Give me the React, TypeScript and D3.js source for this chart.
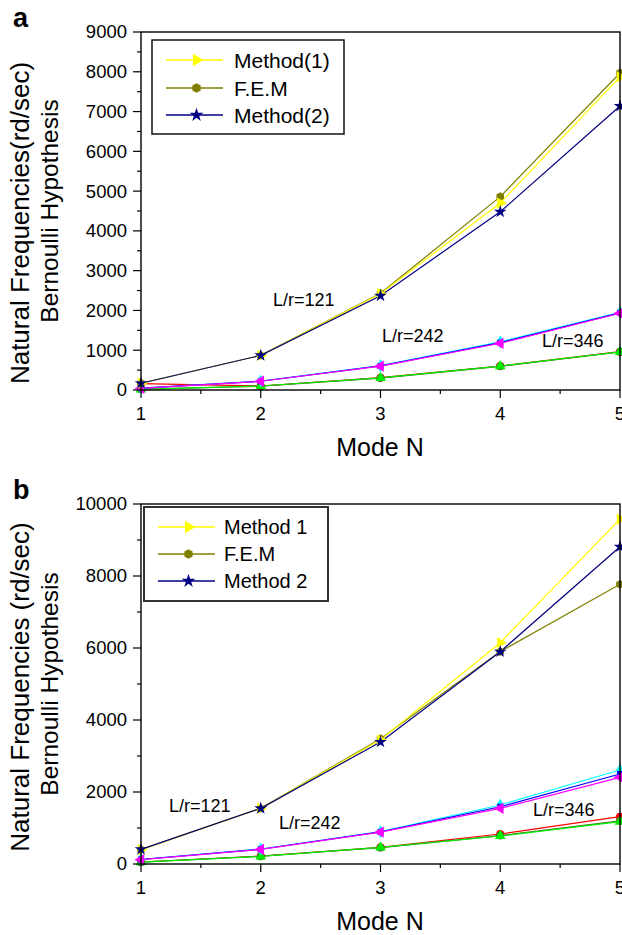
import React from "react";
import * as d3 from "d3";

const modes = [1, 2, 3, 4, 5];

// Panel a values
const aM1_121 = [170, 870, 2420, 4700, 7870];
const aFEM_121 = [170, 870, 2430, 4860, 7970];
const aM2_121 = [170, 870, 2370, 4480, 7140];
const aM1_242 = [50, 226, 611, 1210, 1950];
const aFEM_242 = [45, 220, 605, 1190, 1940];
const aM2_242 = [40, 220, 600, 1175, 1930];
const aM1_346 = [160, 100, 310, 603, 963];
const aFEM_346 = [20, 95, 300, 595, 955];
const aM2_346 = [15, 100, 305, 600, 960];

// Panel b values
const bM1_121 = [400, 1546, 3450, 6147, 9580];
const bFEM_121 = [400, 1546, 3480, 5900, 7769];
const bM2_121 = [408, 1546, 3390, 5897, 8814];
const bM1_242 = [130, 417, 898, 1639, 2611];
const bFEM_242 = [125, 410, 890, 1590, 2500];
const bM2_242 = [120, 405, 885, 1546, 2408];
const bM1_346 = [55, 222, 463, 833, 1315];
const bFEM_346 = [50, 215, 455, 790, 1200];
const bM2_346 = [50, 210, 460, 778, 1176];

const legendA = ["Method(1)", "F.E.M", "Method(2)"];
const legendB = ["Method 1", "F.E.M", "Method 2"];
const ticksA = [0, 1000, 2000, 3000, 4000, 5000, 6000, 7000, 8000, 9000];
const ticksB = [0, 2000, 4000, 6000, 8000, 10000];
const ratioLabels = ["L/r=121", "L/r=242", "L/r=346"];

const FONT = "'Liberation Sans', Arial, Helvetica, sans-serif";

type Style = { color: string; marker: string };
const styles121: Style[] = [
  { color: "#ffff00", marker: "triRight" },
  { color: "#808000", marker: "hex" },
  { color: "#000080", marker: "star" },
];
const styles242: Style[] = [
  { color: "#00ffff", marker: "diamond" },
  { color: "#0000ff", marker: "square" },
  { color: "#ff00ff", marker: "triLeft" },
];
const styles346: Style[] = [
  { color: "#ff0000", marker: "circle" },
  { color: "#556b2f", marker: "circle" },
  { color: "#00ee00", marker: "triUp" },
];

function markerPath(kind: string, size: number): { d: string; rot: number } {
  switch (kind) {
    case "triRight":
      return { d: d3.symbol(d3.symbolTriangle, size * 1.1)()!, rot: 90 };
    case "triLeft":
      return { d: d3.symbol(d3.symbolTriangle, size * 1.1)()!, rot: -90 };
    case "triUp":
      return { d: d3.symbol(d3.symbolTriangle, size)()!, rot: 0 };
    case "star":
      return { d: d3.symbol(d3.symbolStar, size)()!, rot: 0 };
    case "diamond":
      return { d: d3.symbol(d3.symbolDiamond, size)()!, rot: 0 };
    case "square":
      return { d: d3.symbol(d3.symbolSquare, size * 0.7)()!, rot: 0 };
    case "hex": {
      const r = Math.sqrt(size / 2.6);
      const pts = d3.range(6).map((i) => {
        const a = (Math.PI / 3) * i + Math.PI / 6;
        return [r * Math.cos(a), r * Math.sin(a)];
      });
      return { d: "M" + pts.map((p) => p.join(",")).join("L") + "Z", rot: 0 };
    }
    default:
      return { d: d3.symbol(d3.symbolCircle, size)()!, rot: 0 };
  }
}

function Marker({ kind, color, x, y, size }: { kind: string; color: string; x: number; y: number; size: number }) {
  const m = markerPath(kind, size);
  return <path d={m.d} fill={color} transform={`translate(${x},${y}) rotate(${m.rot})`} />;
}

type PanelProps = {
  top: number;
  bottom: number;
  yMax: number;
  yTicks: number[];
  yMinorStep: number;
  series: { values: number[]; style: Style }[];
  letter: string;
  yLabel1: string;
  labelShift: number;
  legend: string[];
  legendBox: { x: number; y: number; w: number; h: number; stroke: string; sw: number; fs: number; rowY: number[]; lx1: number; lx2: number; tx: number };
  labels: { text: string; x: number; y: number }[];
  markerSize: number;
};

function Panel(p: PanelProps) {
  const left = 141;
  const right = 620;
  const x = d3.scaleLinear().domain([1, 5]).range([left, right]);
  const y = d3.scaleLinear().domain([0, p.yMax]).range([p.bottom, p.top]);
  const line = d3
    .line<number>()
    .x((_, i) => x(modes[i]))
    .y((v) => y(v));
  const minorY = d3.range(0, p.yMax + 1, p.yMinorStep);
  const minorX = d3.range(1, 5.01, 0.5);
  const midY = (p.top + p.bottom) / 2;
  const lb = p.legendBox;
  return (
    <g>
      <text x={13} y={p.top - 5} fontFamily={FONT} fontWeight="bold" fontSize={27}>
        {p.letter}
      </text>
      {p.series.map((s, i) => (
        <path key={"l" + i} d={line(s.values)!} fill="none" stroke={s.style.color} strokeWidth={1.2} />
      ))}
      {p.series.map((s, i) =>
        s.values.map((v, j) => (
          <Marker key={`m${i}-${j}`} kind={s.style.marker} color={s.style.color} x={x(modes[j])} y={y(v)} size={p.markerSize} />
        ))
      )}
      <rect x={left} y={p.top} width={right - left} height={p.bottom - p.top} fill="none" stroke="#000" strokeWidth={1.4} />
      {minorY.map((t) => (
        <line key={"ym" + t} x1={left} x2={left - (p.yTicks.includes(t) ? 8 : 4)} y1={y(t)} y2={y(t)} stroke="#000" strokeWidth={1.2} />
      ))}
      {p.yTicks.map((t) => (
        <text key={"yt" + t} x={left - 14} y={y(t)} dy="0.35em" textAnchor="end" fontFamily={FONT} fontSize={18.5}>
          {t}
        </text>
      ))}
      {minorX.map((t) => (
        <line key={"xm" + t} x1={x(t)} x2={x(t)} y1={p.bottom} y2={p.bottom + (Number.isInteger(t) ? 8 : 4)} stroke="#000" strokeWidth={1.2} />
      ))}
      {modes.map((t) => (
        <text key={"xt" + t} x={x(t)} y={p.bottom + 30} textAnchor="middle" fontFamily={FONT} fontSize={18.5}>
          {t}
        </text>
      ))}
      <text x={380} y={p.bottom + 66} textAnchor="middle" fontFamily={FONT} fontSize={25}>
        Mode N
      </text>
      <text transform={`translate(29,${midY + p.labelShift}) rotate(-90)`} textAnchor="middle" fontFamily={FONT} fontSize={26}>
        {p.yLabel1}
      </text>
      <text transform={`translate(58,${midY}) rotate(-90)`} textAnchor="middle" fontFamily={FONT} fontSize={24.5}>
        Bernoulli Hypothesis
      </text>
      {p.labels.map((l) => (
        <text key={l.text} x={l.x} y={l.y} fontFamily={FONT} fontSize={18}>
          {l.text}
        </text>
      ))}
      <rect x={lb.x} y={lb.y} width={lb.w} height={lb.h} fill="#fff" stroke={lb.stroke} strokeWidth={lb.sw} />
      {p.legend.map((name, i) => (
        <g key={name}>
          <line x1={lb.lx1} x2={lb.lx2} y1={lb.rowY[i]} y2={lb.rowY[i]} stroke={styles121[i].color} strokeWidth={1.3} />
          <Marker kind={styles121[i].marker} color={styles121[i].color} x={(lb.lx1 + lb.lx2) / 2 + 2} y={lb.rowY[i]} size={60} />
          <text x={lb.tx} y={lb.rowY[i]} dy="0.36em" fontFamily={FONT} fontSize={lb.fs}>
            {name}
          </text>
        </g>
      ))}
    </g>
  );
}

export default function App() {
  const seriesA = [
    { values: aM1_346, style: styles346[0] },
    { values: aFEM_346, style: styles346[1] },
    { values: aM2_346, style: styles346[2] },
    { values: aM1_242, style: styles242[0] },
    { values: aFEM_242, style: styles242[1] },
    { values: aM2_242, style: styles242[2] },
    { values: aFEM_121, style: styles121[1] },
    { values: aM1_121, style: styles121[0] },
    { values: aM2_121, style: styles121[2] },
  ];
  const seriesB = [
    { values: bM1_346, style: styles346[0] },
    { values: bFEM_346, style: styles346[1] },
    { values: bM2_346, style: styles346[2] },
    { values: bM1_242, style: styles242[0] },
    { values: bFEM_242, style: styles242[1] },
    { values: bM2_242, style: styles242[2] },
    { values: bFEM_121, style: styles121[1] },
    { values: bM1_121, style: styles121[0] },
    { values: bM2_121, style: styles121[2] },
  ];
  return (
    <svg width={622} height={935} style={{ position: "absolute", left: 0, top: 0, background: "#fff" }}>
      <Panel
        top={32}
        bottom={390}
        yMax={9000}
        yTicks={ticksA}
        yMinorStep={500}
        series={seriesA}
        letter="a"
        yLabel1="Natural Frequencies(rd/sec)"
        labelShift={12}
        legend={legendA}
        legendBox={{ x: 152, y: 40, w: 192, h: 94, stroke: "#000", sw: 1.4, fs: 21, rowY: [60, 88, 115], lx1: 166, lx2: 223, tx: 234 }}
        labels={[
          { text: ratioLabels[0], x: 273, y: 306 },
          { text: ratioLabels[1], x: 382, y: 342 },
          { text: ratioLabels[2], x: 542, y: 347 },
        ]}
        markerSize={50}
      />
      <Panel
        top={504}
        bottom={864}
        yMax={10000}
        yTicks={ticksB}
        yMinorStep={1000}
        series={seriesB}
        letter="b"
        yLabel1="Natural Frequencies (rd/sec)"
        labelShift={3}
        legend={legendB}
        legendBox={{ x: 144, y: 507, w: 184, h: 94, stroke: "#333", sw: 2, fs: 20, rowY: [527, 554, 581], lx1: 158, lx2: 215, tx: 224 }}
        labels={[
          { text: ratioLabels[0], x: 169, y: 812 },
          { text: ratioLabels[1], x: 279, y: 829 },
          { text: ratioLabels[2], x: 533, y: 816 },
        ]}
        markerSize={50}
      />
    </svg>
  );
}
